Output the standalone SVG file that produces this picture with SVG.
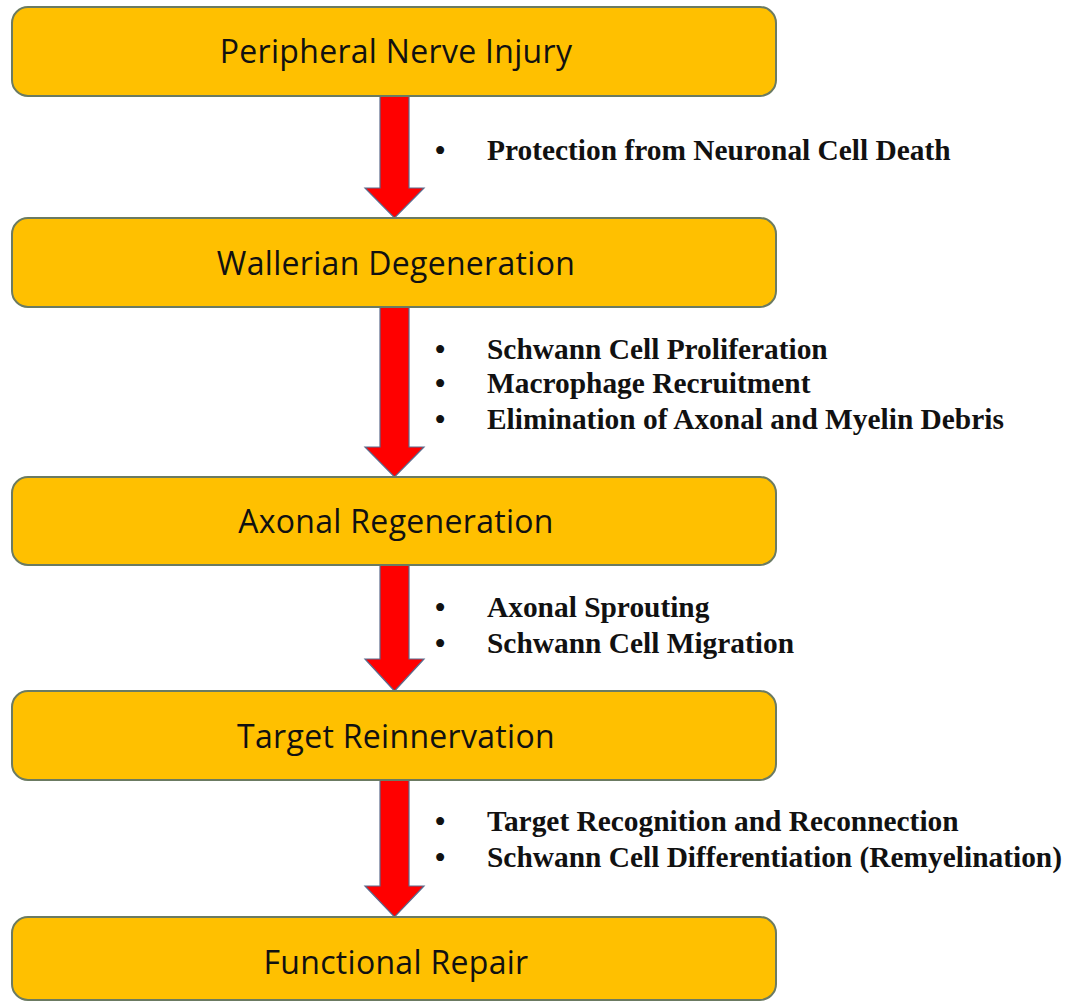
<svg xmlns="http://www.w3.org/2000/svg" width="1071" height="1002" viewBox="0 0 1071 1002">
<style>
.box{fill:#FFC000;stroke:#6B7B62;stroke-width:2}
.lbl{font-family:"Open Sans","Liberation Sans",sans-serif;font-size:32px;letter-spacing:0.3px;fill:#111;text-anchor:middle}
.arr{fill:#FF0000;stroke:#5B6A8C;stroke-width:1.2}
.bt{font-family:"Liberation Serif",serif;font-weight:bold;font-size:29.4px;fill:#111}
</style>
<rect width="1071" height="1002" fill="#FFFFFF"/>
<g id="connectors">
<path class="arr" d="M380,96 H409 V188 H424 L394.5,218 L365,188 H380 Z"/>
<path class="arr" d="M380,307 H409 V447 H424 L394.5,477 L365,447 H380 Z"/>
<path class="arr" d="M380,565 H409 V659 H424 L394.5,691 L365,659 H380 Z"/>
<path class="arr" d="M380,780 H409 V886 H424 L394.5,917 L365,886 H380 Z"/>
</g>
<g id="node1"><rect class="box" x="12" y="7" width="764" height="89" rx="16"/><text class="lbl" x="396" y="63">Peripheral Nerve Injury</text></g>
<g id="node2"><rect class="box" x="12" y="218" width="764" height="89" rx="16"/><text class="lbl" x="396" y="275">Wallerian Degeneration</text></g>
<g id="node3"><rect class="box" x="12" y="477" width="764" height="88" rx="16"/><text class="lbl" x="396" y="533">Axonal Regeneration</text></g>
<g id="node4"><rect class="box" x="12" y="691" width="764" height="89" rx="16"/><text class="lbl" x="396" y="748">Target Reinnervation</text></g>
<g id="node5"><rect class="box" x="12" y="917" width="764" height="83" rx="16"/><text class="lbl" x="396" y="974">Functional Repair</text></g>
<g id="notes1" class="bt"><text x="435" y="160">•</text><text x="487" y="160">Protection from Neuronal Cell Death</text></g>
<g id="notes2" class="bt"><text x="435" y="359">•</text><text x="487" y="359">Schwann Cell Proliferation</text><text x="435" y="393">•</text><text x="487" y="393">Macrophage Recruitment</text><text x="435" y="429">•</text><text x="487" y="429">Elimination of Axonal and Myelin Debris</text></g>
<g id="notes3" class="bt"><text x="435" y="617">•</text><text x="487" y="617">Axonal Sprouting</text><text x="435" y="653">•</text><text x="487" y="653">Schwann Cell Migration</text></g>
<g id="notes4" class="bt"><text x="435" y="831">•</text><text x="487" y="831">Target Recognition and Reconnection</text><text x="435" y="867">•</text><text x="487" y="867">Schwann Cell Differentiation (Remyelination)</text></g>
</svg>
